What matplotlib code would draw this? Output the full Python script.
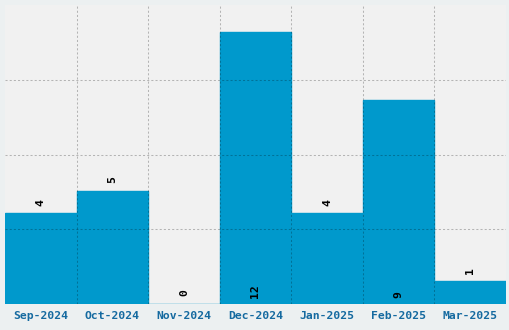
import numpy as np
import matplotlib
matplotlib.use("Agg")
import matplotlib.pyplot as plt

months = ["Sep-2024", "Oct-2024", "Nov-2024", "Dec-2024", "Jan-2025", "Feb-2025", "Mar-2025"]
counts = [4, 5, 0, 12, 4, 9, 1]

bar_color = "#0099cc"
fig = plt.figure(figsize=(5.1, 3.3), dpi=100, facecolor="#ecf0f1")
ax = fig.add_axes([5/510, 26/330, 501/510, 299/330])
ax.set_facecolor("#f1f1f1")

x = np.arange(len(months))
ax.bar(x, counts, width=1.0, color=bar_color, edgecolor=bar_color, linewidth=1.0, zorder=1)

ymax = 13.2
ax.set_xlim(-0.5, len(months) - 0.5)
ax.set_ylim(0, ymax)

ax.set_xticks(x)
ax.set_xticklabels(months, fontfamily="DejaVu Sans Mono", fontweight="bold",
                   fontsize=8.2, color="#156aa0")
ax.set_yticks(np.linspace(0, ymax, 5)[1:-1])
ax.tick_params(axis="both", which="both", length=0, pad=5)
ax.tick_params(axis="y", labelleft=False)

for spine in ax.spines.values():
    spine.set_visible(False)

grid_kw = dict(color="black", alpha=0.25, linewidth=0.75, linestyle=(0, (2, 2)), zorder=3)
ax.grid(False)
for xv in x[:-1] + 0.5:
    ax.axvline(xv, **grid_kw)
for yv in np.linspace(0, ymax, 5)[1:-1]:
    ax.axhline(yv, **grid_kw)

big = 0.6 * max(counts)
for xi, v in zip(x, counts):
    if v >= big:
        ax.annotate(str(v), (xi, 0), xytext=(0, 4), textcoords="offset points",
                    rotation=90, ha="center", va="bottom", fontsize=8.2,
                    fontfamily="DejaVu Sans Mono", fontweight="bold", color="black", zorder=4)
    else:
        ax.annotate(str(v), (xi, v), xytext=(0, 5.5), textcoords="offset points",
                    rotation=90, ha="center", va="bottom", fontsize=8.2,
                    fontfamily="DejaVu Sans Mono", fontweight="bold", color="black", zorder=4)

fig.savefig("out.png", dpi=100, facecolor=fig.get_facecolor())
